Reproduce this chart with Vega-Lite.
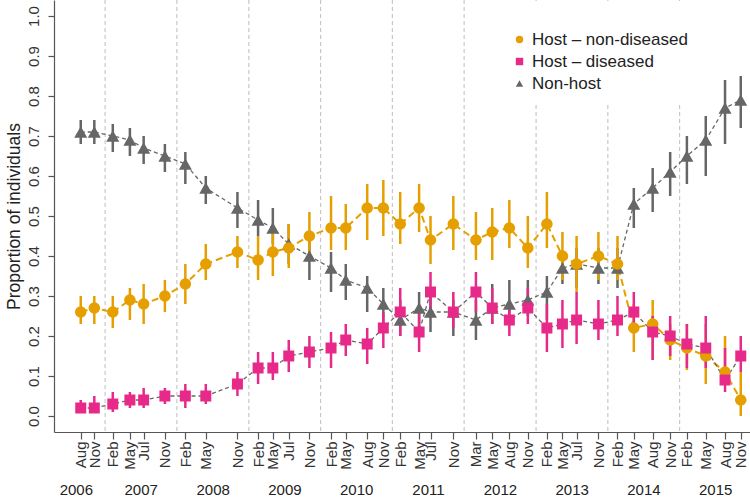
{
  "$schema": "https://vega.github.io/schema/vega-lite/v6.json",
  "width": 696,
  "height": 432,
  "autosize": {"type": "none"},
  "padding": {"left": 54, "top": 0, "right": 0, "bottom": 66},
  "background": "white",
  "config": {
    "view": {"stroke": null},
    "font": "Liberation Sans",
    "axis": {"grid": false},
    "axisY": {
      "labelAngle": 270, "labelAlign": "center", "labelBaseline": "bottom", "labelFontSize": 15, "labelColor": "#333",
      "labelPadding": 7, "tickSize": 6, "tickColor": "#555", "tickWidth": 1.2, "domainColor": "#555", "domainWidth": 1.2,
      "labelOverlap": false, "labelBound": false, "labelFlush": false, "format": ".1f",
      "titleFontSize": 17.5, "titleFontWeight": "normal", "titleColor": "#222",
      "titleX": -40, "titleY": 216, "titleAngle": 270, "titleAlign": "center", "titleBaseline": "middle"
    },
    "legend": {
      "orient": "none", "legendX": 447, "legendY": 1, "titleFontSize": 16, "titlePadding": 4,
      "padding": 10, "fillColor": "white", "labelFontSize": 17, "labelColor": "#222", "labelOffset": 4,
      "symbolSize": 55, "rowPadding": 4, "symbolStrokeWidth": 0
    }
  },
  "datasets": {
    "jan": [{"j": "2007-01-01"}, {"j": "2008-01-01"}, {"j": "2009-01-01"}, {"j": "2010-01-01"}, {"j": "2011-01-01"}, {"j": "2012-01-01"}, {"j": "2013-01-01"}, {"j": "2014-01-01"}, {"j": "2015-01-01"}],
    "obs": [
      {"d": "2006-08-30", "s": "Non-host", "p": 0.71, "lo": 0.68, "hi": 0.74},
      {"d": "2006-11-07", "s": "Non-host", "p": 0.71, "lo": 0.68, "hi": 0.74},
      {"d": "2007-02-09", "s": "Non-host", "p": 0.70, "lo": 0.66, "hi": 0.73},
      {"d": "2007-05-07", "s": "Non-host", "p": 0.69, "lo": 0.65, "hi": 0.72},
      {"d": "2007-07-16", "s": "Non-host", "p": 0.67, "lo": 0.63, "hi": 0.70},
      {"d": "2007-11-01", "s": "Non-host", "p": 0.65, "lo": 0.61, "hi": 0.68},
      {"d": "2008-02-13", "s": "Non-host", "p": 0.63, "lo": 0.58, "hi": 0.66},
      {"d": "2008-05-27", "s": "Non-host", "p": 0.57, "lo": 0.53, "hi": 0.60},
      {"d": "2008-11-04", "s": "Non-host", "p": 0.52, "lo": 0.47, "hi": 0.56},
      {"d": "2009-02-17", "s": "Non-host", "p": 0.49, "lo": 0.45, "hi": 0.54},
      {"d": "2009-05-03", "s": "Non-host", "p": 0.47, "lo": 0.43, "hi": 0.52},
      {"d": "2009-07-23", "s": "Non-host", "p": 0.43, "lo": 0.38, "hi": 0.48},
      {"d": "2009-11-05", "s": "Non-host", "p": 0.40, "lo": 0.34, "hi": 0.45},
      {"d": "2010-02-23", "s": "Non-host", "p": 0.37, "lo": 0.31, "hi": 0.41},
      {"d": "2010-05-09", "s": "Non-host", "p": 0.34, "lo": 0.29, "hi": 0.38},
      {"d": "2010-08-26", "s": "Non-host", "p": 0.32, "lo": 0.26, "hi": 0.35},
      {"d": "2010-11-16", "s": "Non-host", "p": 0.28, "lo": 0.22, "hi": 0.32},
      {"d": "2011-02-10", "s": "Non-host", "p": 0.24, "lo": 0.20, "hi": 0.29},
      {"d": "2011-05-17", "s": "Non-host", "p": 0.27, "lo": 0.22, "hi": 0.31},
      {"d": "2011-07-14", "s": "Non-host", "p": 0.26, "lo": 0.21, "hi": 0.32},
      {"d": "2011-11-07", "s": "Non-host", "p": 0.26, "lo": 0.20, "hi": 0.29},
      {"d": "2012-03-01", "s": "Non-host", "p": 0.24, "lo": 0.19, "hi": 0.29},
      {"d": "2012-05-23", "s": "Non-host", "p": 0.27, "lo": 0.23, "hi": 0.33},
      {"d": "2012-08-18", "s": "Non-host", "p": 0.28, "lo": 0.25, "hi": 0.34},
      {"d": "2012-11-20", "s": "Non-host", "p": 0.29, "lo": 0.25, "hi": 0.34},
      {"d": "2013-02-25", "s": "Non-host", "p": 0.31, "lo": 0.24, "hi": 0.35},
      {"d": "2013-05-15", "s": "Non-host", "p": 0.37, "lo": 0.33, "hi": 0.41},
      {"d": "2013-07-26", "s": "Non-host", "p": 0.38, "lo": 0.32, "hi": 0.42},
      {"d": "2013-11-14", "s": "Non-host", "p": 0.37, "lo": 0.33, "hi": 0.42},
      {"d": "2014-02-19", "s": "Non-host", "p": 0.37, "lo": 0.32, "hi": 0.42},
      {"d": "2014-05-13", "s": "Non-host", "p": 0.53, "lo": 0.47, "hi": 0.57},
      {"d": "2014-08-17", "s": "Non-host", "p": 0.57, "lo": 0.51, "hi": 0.62},
      {"d": "2014-11-14", "s": "Non-host", "p": 0.61, "lo": 0.55, "hi": 0.66},
      {"d": "2015-02-07", "s": "Non-host", "p": 0.65, "lo": 0.58, "hi": 0.70},
      {"d": "2015-05-14", "s": "Non-host", "p": 0.69, "lo": 0.60, "hi": 0.75},
      {"d": "2015-08-20", "s": "Non-host", "p": 0.77, "lo": 0.68, "hi": 0.84},
      {"d": "2015-11-08", "s": "Non-host", "p": 0.79, "lo": 0.72, "hi": 0.85},
      {"d": "2006-08-30", "s": "Host – non-diseased", "p": 0.26, "lo": 0.23, "hi": 0.30},
      {"d": "2006-11-07", "s": "Host – non-diseased", "p": 0.27, "lo": 0.23, "hi": 0.30},
      {"d": "2007-02-09", "s": "Host – non-diseased", "p": 0.26, "lo": 0.22, "hi": 0.30},
      {"d": "2007-05-07", "s": "Host – non-diseased", "p": 0.29, "lo": 0.24, "hi": 0.32},
      {"d": "2007-07-16", "s": "Host – non-diseased", "p": 0.28, "lo": 0.23, "hi": 0.33},
      {"d": "2007-11-01", "s": "Host – non-diseased", "p": 0.30, "lo": 0.26, "hi": 0.34},
      {"d": "2008-02-13", "s": "Host – non-diseased", "p": 0.33, "lo": 0.28, "hi": 0.38},
      {"d": "2008-05-27", "s": "Host – non-diseased", "p": 0.38, "lo": 0.34, "hi": 0.43},
      {"d": "2008-11-04", "s": "Host – non-diseased", "p": 0.41, "lo": 0.37, "hi": 0.45},
      {"d": "2009-02-17", "s": "Host – non-diseased", "p": 0.39, "lo": 0.34, "hi": 0.45},
      {"d": "2009-05-03", "s": "Host – non-diseased", "p": 0.41, "lo": 0.35, "hi": 0.46},
      {"d": "2009-07-23", "s": "Host – non-diseased", "p": 0.42, "lo": 0.37, "hi": 0.48},
      {"d": "2009-11-05", "s": "Host – non-diseased", "p": 0.45, "lo": 0.40, "hi": 0.51},
      {"d": "2010-02-23", "s": "Host – non-diseased", "p": 0.47, "lo": 0.415, "hi": 0.55},
      {"d": "2010-05-09", "s": "Host – non-diseased", "p": 0.47, "lo": 0.415, "hi": 0.53},
      {"d": "2010-08-26", "s": "Host – non-diseased", "p": 0.52, "lo": 0.44, "hi": 0.58},
      {"d": "2010-11-16", "s": "Host – non-diseased", "p": 0.52, "lo": 0.45, "hi": 0.59},
      {"d": "2011-02-10", "s": "Host – non-diseased", "p": 0.48, "lo": 0.43, "hi": 0.56},
      {"d": "2011-05-17", "s": "Host – non-diseased", "p": 0.52, "lo": 0.46, "hi": 0.58},
      {"d": "2011-07-14", "s": "Host – non-diseased", "p": 0.44, "lo": 0.38, "hi": 0.50},
      {"d": "2011-11-07", "s": "Host – non-diseased", "p": 0.48, "lo": 0.415, "hi": 0.55},
      {"d": "2012-03-01", "s": "Host – non-diseased", "p": 0.44, "lo": 0.39, "hi": 0.51},
      {"d": "2012-05-23", "s": "Host – non-diseased", "p": 0.46, "lo": 0.39, "hi": 0.52},
      {"d": "2012-08-18", "s": "Host – non-diseased", "p": 0.47, "lo": 0.42, "hi": 0.54},
      {"d": "2012-11-20", "s": "Host – non-diseased", "p": 0.42, "lo": 0.37, "hi": 0.50},
      {"d": "2013-02-25", "s": "Host – non-diseased", "p": 0.48, "lo": 0.42, "hi": 0.56},
      {"d": "2013-05-15", "s": "Host – non-diseased", "p": 0.40, "lo": 0.34, "hi": 0.46},
      {"d": "2013-07-26", "s": "Host – non-diseased", "p": 0.38, "lo": 0.31, "hi": 0.45},
      {"d": "2013-11-14", "s": "Host – non-diseased", "p": 0.40, "lo": 0.34, "hi": 0.46},
      {"d": "2014-02-19", "s": "Host – non-diseased", "p": 0.38, "lo": 0.34, "hi": 0.45},
      {"d": "2014-05-13", "s": "Host – non-diseased", "p": 0.22, "lo": 0.16, "hi": 0.28},
      {"d": "2014-08-17", "s": "Host – non-diseased", "p": 0.23, "lo": 0.14, "hi": 0.29},
      {"d": "2014-11-14", "s": "Host – non-diseased", "p": 0.19, "lo": 0.14, "hi": 0.23},
      {"d": "2015-02-07", "s": "Host – non-diseased", "p": 0.17, "lo": 0.115, "hi": 0.23},
      {"d": "2015-05-14", "s": "Host – non-diseased", "p": 0.15, "lo": 0.08, "hi": 0.23},
      {"d": "2015-08-20", "s": "Host – non-diseased", "p": 0.11, "lo": 0.08, "hi": 0.20},
      {"d": "2015-11-08", "s": "Host – non-diseased", "p": 0.04, "lo": 0.0, "hi": 0.11},
      {"d": "2006-08-30", "s": "Host – diseased", "p": 0.02, "lo": 0.01, "hi": 0.04},
      {"d": "2006-11-07", "s": "Host – diseased", "p": 0.02, "lo": 0.01, "hi": 0.05},
      {"d": "2007-02-09", "s": "Host – diseased", "p": 0.03, "lo": 0.01, "hi": 0.06},
      {"d": "2007-05-07", "s": "Host – diseased", "p": 0.04, "lo": 0.02, "hi": 0.06},
      {"d": "2007-07-16", "s": "Host – diseased", "p": 0.04, "lo": 0.02, "hi": 0.07},
      {"d": "2007-11-01", "s": "Host – diseased", "p": 0.05, "lo": 0.03, "hi": 0.07},
      {"d": "2008-02-13", "s": "Host – diseased", "p": 0.05, "lo": 0.02, "hi": 0.08},
      {"d": "2008-05-27", "s": "Host – diseased", "p": 0.05, "lo": 0.03, "hi": 0.08},
      {"d": "2008-11-04", "s": "Host – diseased", "p": 0.08, "lo": 0.05, "hi": 0.11},
      {"d": "2009-02-17", "s": "Host – diseased", "p": 0.12, "lo": 0.08, "hi": 0.16},
      {"d": "2009-05-03", "s": "Host – diseased", "p": 0.12, "lo": 0.09, "hi": 0.16},
      {"d": "2009-07-23", "s": "Host – diseased", "p": 0.15, "lo": 0.11, "hi": 0.19},
      {"d": "2009-11-05", "s": "Host – diseased", "p": 0.16, "lo": 0.12, "hi": 0.20},
      {"d": "2010-02-23", "s": "Host – diseased", "p": 0.17, "lo": 0.12, "hi": 0.21},
      {"d": "2010-05-09", "s": "Host – diseased", "p": 0.19, "lo": 0.15, "hi": 0.23},
      {"d": "2010-08-26", "s": "Host – diseased", "p": 0.18, "lo": 0.13, "hi": 0.22},
      {"d": "2010-11-16", "s": "Host – diseased", "p": 0.22, "lo": 0.17, "hi": 0.26},
      {"d": "2011-02-10", "s": "Host – diseased", "p": 0.26, "lo": 0.20, "hi": 0.32},
      {"d": "2011-05-17", "s": "Host – diseased", "p": 0.21, "lo": 0.16, "hi": 0.26},
      {"d": "2011-07-14", "s": "Host – diseased", "p": 0.31, "lo": 0.25, "hi": 0.36},
      {"d": "2011-11-07", "s": "Host – diseased", "p": 0.26, "lo": 0.22, "hi": 0.31},
      {"d": "2012-03-01", "s": "Host – diseased", "p": 0.31, "lo": 0.26, "hi": 0.36},
      {"d": "2012-05-23", "s": "Host – diseased", "p": 0.27, "lo": 0.23, "hi": 0.32},
      {"d": "2012-08-18", "s": "Host – diseased", "p": 0.24, "lo": 0.20, "hi": 0.28},
      {"d": "2012-11-20", "s": "Host – diseased", "p": 0.27, "lo": 0.23, "hi": 0.32},
      {"d": "2013-02-25", "s": "Host – diseased", "p": 0.22, "lo": 0.16, "hi": 0.28},
      {"d": "2013-05-15", "s": "Host – diseased", "p": 0.23, "lo": 0.17, "hi": 0.29},
      {"d": "2013-07-26", "s": "Host – diseased", "p": 0.24, "lo": 0.18, "hi": 0.31},
      {"d": "2013-11-14", "s": "Host – diseased", "p": 0.23, "lo": 0.19, "hi": 0.29},
      {"d": "2014-02-19", "s": "Host – diseased", "p": 0.24, "lo": 0.20, "hi": 0.30},
      {"d": "2014-05-13", "s": "Host – diseased", "p": 0.26, "lo": 0.21, "hi": 0.31},
      {"d": "2014-08-17", "s": "Host – diseased", "p": 0.21, "lo": 0.14, "hi": 0.25},
      {"d": "2014-11-14", "s": "Host – diseased", "p": 0.20, "lo": 0.15, "hi": 0.25},
      {"d": "2015-02-07", "s": "Host – diseased", "p": 0.18, "lo": 0.12, "hi": 0.23},
      {"d": "2015-05-14", "s": "Host – diseased", "p": 0.17, "lo": 0.12, "hi": 0.25},
      {"d": "2015-08-20", "s": "Host – diseased", "p": 0.09, "lo": 0.06, "hi": 0.17},
      {"d": "2015-11-08", "s": "Host – diseased", "p": 0.15, "lo": 0.11, "hi": 0.20}
    ]
  },
  "resolve": {"axis": {"x": "independent"}},
  "layer": [
    {
      "data": {"name": "jan"},
      "mark": {"type": "rule", "color": "#c4c4c4", "strokeDash": [4, 3], "strokeWidth": 1.1},
      "encoding": {
        "x": {
          "field": "j", "type": "temporal",
          "scale": {"type": "utc", "domain": [{"year": 2006, "month": 4, "date": 16, "utc": true}, {"year": 2015, "month": 12, "date": 25, "utc": true}]},
          "axis": {
            "orient": "bottom", "title": null, "format": "%Y", "labelAngle": 0, "labelFontSize": 15, "labelColor": "#222",
            "labelPadding": 50, "ticks": false, "domain": false, "labelOverlap": false, "labelFlush": false, "labelBound": false, "grid": false,
            "values": [
              {"year": 2006, "month": 8, "date": 5, "utc": true},
              {"year": 2007, "month": 7, "date": 1, "utc": true},
              {"year": 2008, "month": 7, "date": 1, "utc": true},
              {"year": 2009, "month": 7, "date": 1, "utc": true},
              {"year": 2010, "month": 7, "date": 1, "utc": true},
              {"year": 2011, "month": 7, "date": 1, "utc": true},
              {"year": 2012, "month": 7, "date": 1, "utc": true},
              {"year": 2013, "month": 7, "date": 1, "utc": true},
              {"year": 2014, "month": 7, "date": 1, "utc": true},
              {"year": 2015, "month": 7, "date": 1, "utc": true}
            ]
          }
        }
      }
    },
    {
      "data": {"name": "obs"},
      "transform": [{"filter": "datum.s === 'Host – non-diseased'"}],
      "mark": {"type": "line", "color": "#E69F00", "strokeDash": [7, 4], "strokeWidth": 2},
      "encoding": {
        "x": {"field": "d", "type": "temporal", "axis": null, "scale": {"type": "utc", "domain": [{"year": 2006, "month": 4, "date": 16, "utc": true}, {"year": 2015, "month": 12, "date": 25, "utc": true}]}},
        "y": {"field": "p", "type": "quantitative", "title": "Proportion of individuals", "axis": {"values": [0, 0.1, 0.2, 0.3, 0.4, 0.5, 0.6, 0.7, 0.8, 0.9, 1.0]}, "scale": {"domain": [-0.04, 1.04], "nice": false, "zero": false}}
      }
    },
    {
      "data": {"name": "obs"},
      "transform": [{"filter": "datum.s !== 'Host – non-diseased'"}],
      "mark": {"type": "line", "color": "#666666", "strokeDash": [4, 3], "strokeWidth": 1.3},
      "encoding": {
        "x": {"field": "d", "type": "temporal", "axis": null, "scale": {"type": "utc", "domain": [{"year": 2006, "month": 4, "date": 16, "utc": true}, {"year": 2015, "month": 12, "date": 25, "utc": true}]}},
        "y": {"field": "p", "type": "quantitative", "title": "Proportion of individuals", "axis": {"values": [0, 0.1, 0.2, 0.3, 0.4, 0.5, 0.6, 0.7, 0.8, 0.9, 1.0]}, "scale": {"domain": [-0.04, 1.04], "nice": false, "zero": false}},
        "detail": {"field": "s", "type": "nominal"}
      }
    },
    {
      "data": {"name": "obs"},
      "transform": [{"filter": "datum.s === 'Non-host'"}],
      "mark": {"type": "rule", "strokeWidth": 2.5, "color": "#666666"},
      "encoding": {
        "x": {"field": "d", "type": "temporal", "axis": null, "scale": {"type": "utc", "domain": [{"year": 2006, "month": 4, "date": 16, "utc": true}, {"year": 2015, "month": 12, "date": 25, "utc": true}]}},
        "y": {"field": "lo", "type": "quantitative", "title": "Proportion of individuals", "axis": {"values": [0, 0.1, 0.2, 0.3, 0.4, 0.5, 0.6, 0.7, 0.8, 0.9, 1.0]}, "scale": {"domain": [-0.04, 1.04], "nice": false, "zero": false}},
        "y2": {"field": "hi"}
      }
    },
    {
      "data": {"name": "obs"},
      "transform": [{"filter": "datum.s === 'Host – non-diseased'"}],
      "mark": {"type": "rule", "strokeWidth": 2.5, "color": "#E69F00"},
      "encoding": {
        "x": {"field": "d", "type": "temporal", "axis": null, "scale": {"type": "utc", "domain": [{"year": 2006, "month": 4, "date": 16, "utc": true}, {"year": 2015, "month": 12, "date": 25, "utc": true}]}},
        "y": {"field": "lo", "type": "quantitative", "title": "Proportion of individuals", "axis": {"values": [0, 0.1, 0.2, 0.3, 0.4, 0.5, 0.6, 0.7, 0.8, 0.9, 1.0]}, "scale": {"domain": [-0.04, 1.04], "nice": false, "zero": false}},
        "y2": {"field": "hi"}
      }
    },
    {
      "data": {"name": "obs"},
      "transform": [{"filter": "datum.s === 'Host – diseased'"}],
      "mark": {"type": "rule", "strokeWidth": 2.5, "color": "#E7298A"},
      "encoding": {
        "x": {"field": "d", "type": "temporal", "axis": null, "scale": {"type": "utc", "domain": [{"year": 2006, "month": 4, "date": 16, "utc": true}, {"year": 2015, "month": 12, "date": 25, "utc": true}]}},
        "y": {"field": "lo", "type": "quantitative", "title": "Proportion of individuals", "axis": {"values": [0, 0.1, 0.2, 0.3, 0.4, 0.5, 0.6, 0.7, 0.8, 0.9, 1.0]}, "scale": {"domain": [-0.04, 1.04], "nice": false, "zero": false}},
        "y2": {"field": "hi"}
      }
    },
    {
      "data": {"name": "obs"},
      "transform": [{"filter": "datum.s === 'Non-host'"}],
      "mark": {"type": "point", "filled": true, "opacity": 1, "size": 170},
      "encoding": {
        "x": {
          "field": "d", "type": "temporal",
          "scale": {"type": "utc", "domain": [{"year": 2006, "month": 4, "date": 16, "utc": true}, {"year": 2015, "month": 12, "date": 25, "utc": true}]},
          "axis": {
            "orient": "bottom", "title": null, "format": "%b", "labelAngle": 270, "labelAlign": "right", "labelBaseline": "middle",
            "labelFontSize": 15, "labelColor": "#333", "labelPadding": 2, "tickSize": 7, "tickColor": "#555", "tickWidth": 1.2,
            "domainColor": "#555", "domainWidth": 1.2, "labelOverlap": false, "labelFlush": false, "labelBound": false, "grid": false,
            "values": [
              {"year": 2006, "month": 8, "date": 30, "utc": true}, {"year": 2006, "month": 11, "date": 7, "utc": true},
              {"year": 2007, "month": 2, "date": 9, "utc": true}, {"year": 2007, "month": 5, "date": 7, "utc": true},
              {"year": 2007, "month": 7, "date": 16, "utc": true}, {"year": 2007, "month": 11, "date": 1, "utc": true},
              {"year": 2008, "month": 2, "date": 13, "utc": true}, {"year": 2008, "month": 5, "date": 27, "utc": true},
              {"year": 2008, "month": 11, "date": 4, "utc": true}, {"year": 2009, "month": 2, "date": 17, "utc": true},
              {"year": 2009, "month": 5, "date": 3, "utc": true}, {"year": 2009, "month": 7, "date": 23, "utc": true},
              {"year": 2009, "month": 11, "date": 5, "utc": true}, {"year": 2010, "month": 2, "date": 23, "utc": true},
              {"year": 2010, "month": 5, "date": 9, "utc": true}, {"year": 2010, "month": 8, "date": 26, "utc": true},
              {"year": 2010, "month": 11, "date": 16, "utc": true}, {"year": 2011, "month": 2, "date": 10, "utc": true},
              {"year": 2011, "month": 5, "date": 17, "utc": true}, {"year": 2011, "month": 7, "date": 14, "utc": true},
              {"year": 2011, "month": 11, "date": 7, "utc": true}, {"year": 2012, "month": 3, "date": 1, "utc": true},
              {"year": 2012, "month": 5, "date": 23, "utc": true}, {"year": 2012, "month": 8, "date": 18, "utc": true},
              {"year": 2012, "month": 11, "date": 20, "utc": true}, {"year": 2013, "month": 2, "date": 25, "utc": true},
              {"year": 2013, "month": 5, "date": 15, "utc": true}, {"year": 2013, "month": 7, "date": 26, "utc": true},
              {"year": 2013, "month": 11, "date": 14, "utc": true}, {"year": 2014, "month": 2, "date": 19, "utc": true},
              {"year": 2014, "month": 5, "date": 13, "utc": true}, {"year": 2014, "month": 8, "date": 17, "utc": true},
              {"year": 2014, "month": 11, "date": 14, "utc": true}, {"year": 2015, "month": 2, "date": 7, "utc": true},
              {"year": 2015, "month": 5, "date": 14, "utc": true}, {"year": 2015, "month": 8, "date": 20, "utc": true},
              {"year": 2015, "month": 11, "date": 8, "utc": true}
            ]
          }
        },
        "y": {"field": "p", "type": "quantitative", "title": "Proportion of individuals", "axis": {"values": [0, 0.1, 0.2, 0.3, 0.4, 0.5, 0.6, 0.7, 0.8, 0.9, 1.0]}, "scale": {"domain": [-0.04, 1.04], "nice": false, "zero": false}},
        "color": {"field": "s", "type": "nominal", "title": " ", "scale": {"domain": ["Host – non-diseased", "Host – diseased", "Non-host"], "range": ["#E69F00", "#E7298A", "#666666"]}},
        "shape": {"field": "s", "type": "nominal", "title": " ", "scale": {"domain": ["Host – non-diseased", "Host – diseased", "Non-host"], "range": ["circle", "square", "triangle-up"]}}
      }
    },
    {
      "data": {"name": "obs"},
      "transform": [{"filter": "datum.s === 'Host – non-diseased'"}],
      "mark": {"type": "point", "filled": true, "opacity": 1, "size": 135},
      "encoding": {
        "x": {"field": "d", "type": "temporal", "axis": null, "scale": {"type": "utc", "domain": [{"year": 2006, "month": 4, "date": 16, "utc": true}, {"year": 2015, "month": 12, "date": 25, "utc": true}]}},
        "y": {"field": "p", "type": "quantitative", "title": "Proportion of individuals", "axis": {"values": [0, 0.1, 0.2, 0.3, 0.4, 0.5, 0.6, 0.7, 0.8, 0.9, 1.0]}, "scale": {"domain": [-0.04, 1.04], "nice": false, "zero": false}},
        "color": {"field": "s", "type": "nominal", "title": " ", "scale": {"domain": ["Host – non-diseased", "Host – diseased", "Non-host"], "range": ["#E69F00", "#E7298A", "#666666"]}},
        "shape": {"field": "s", "type": "nominal", "title": " ", "scale": {"domain": ["Host – non-diseased", "Host – diseased", "Non-host"], "range": ["circle", "square", "triangle-up"]}}
      }
    },
    {
      "data": {"name": "obs"},
      "transform": [{"filter": "datum.s === 'Host – diseased'"}],
      "mark": {"type": "point", "filled": true, "opacity": 1, "size": 121},
      "encoding": {
        "x": {"field": "d", "type": "temporal", "axis": null, "scale": {"type": "utc", "domain": [{"year": 2006, "month": 4, "date": 16, "utc": true}, {"year": 2015, "month": 12, "date": 25, "utc": true}]}},
        "y": {"field": "p", "type": "quantitative", "title": "Proportion of individuals", "axis": {"values": [0, 0.1, 0.2, 0.3, 0.4, 0.5, 0.6, 0.7, 0.8, 0.9, 1.0]}, "scale": {"domain": [-0.04, 1.04], "nice": false, "zero": false}},
        "color": {"field": "s", "type": "nominal", "title": " ", "scale": {"domain": ["Host – non-diseased", "Host – diseased", "Non-host"], "range": ["#E69F00", "#E7298A", "#666666"]}},
        "shape": {"field": "s", "type": "nominal", "title": " ", "scale": {"domain": ["Host – non-diseased", "Host – diseased", "Non-host"], "range": ["circle", "square", "triangle-up"]}}
      }
    }
  ]
}
